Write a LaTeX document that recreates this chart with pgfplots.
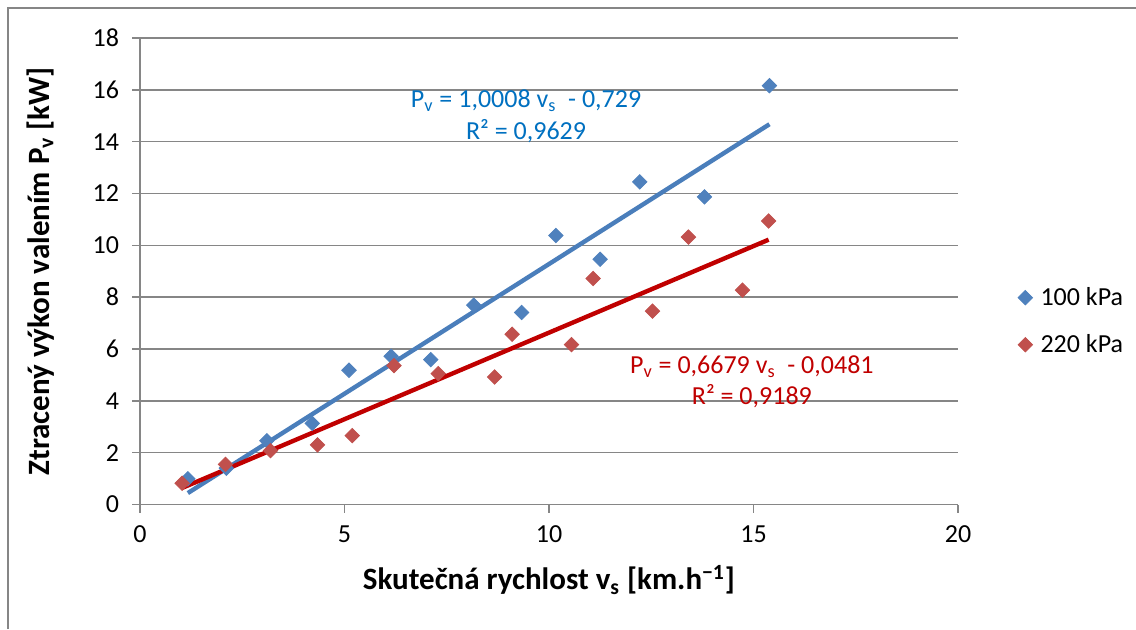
\documentclass[border=0pt]{standalone}
\usepackage{pgfplots}
\pgfplotsset{compat=1.18}
\usepackage{fontspec}
\setmainfont{Carlito}

\definecolor{ptblue}{HTML}{4F81BD}
\definecolor{ptred}{HTML}{C0504D}
\definecolor{lnblue}{HTML}{4A7EBB}
\definecolor{lnred}{HTML}{C00000}
\definecolor{eqblue}{HTML}{0070C0}
\definecolor{eqred}{HTML}{C00000}
\definecolor{gridgray}{HTML}{868686}

\newcommand{\tickfont}{\fontsize{13}{15.6}\selectfont}
\newcommand{\titlefont}{\fontsize{15.5}{18.6}\selectfont\bfseries}

% measured points: speed v_s [km/h], lost power P_v [kW]
\pgfplotstableread{
vs     Pv
1.17   0.99
2.11   1.40
3.10   2.46
4.21   3.13
5.11   5.18
6.14   5.72
7.11   5.59
8.16   7.69
9.33   7.41
10.17  10.38
11.25  9.46
12.22  12.45
13.80  11.87
15.39  16.16
}\lowpressure

\pgfplotstableread{
vs     Pv
1.03   0.82
2.09   1.55
3.19   2.08
4.34   2.30
5.19   2.66
6.21   5.36
7.29   5.05
8.67   4.92
9.10   6.57
10.55  6.17
11.08  8.72
12.53  7.46
13.41  10.32
14.73  8.27
15.37  10.94
}\highpressure

\begin{document}
\begin{tikzpicture}
\useasboundingbox (0,0) rectangle (568pt,314.5pt);
% chart area frame
\draw[gridgray, line width=1pt] (3.75pt,0) -- (3.75pt,310.75pt) -- (568pt,310.75pt);

\begin{axis}[
  at={(70pt,62.25pt)}, anchor=south west,
  scale only axis, width=409pt, height=233.25pt,
  xmin=0, xmax=20, ymin=0, ymax=18,
  xtick={0,5,...,20}, ytick={0,2,...,18},
  axis x line*=bottom, axis y line*=left,
  ymajorgrids,
  grid style={gridgray, line width=0.75pt},
  axis line style={gridgray, line width=0.75pt, -},
  tick align=outside, major tick length=4pt,
  tick style={gridgray, line width=0.75pt},
  /pgf/number format/assume math mode=true,
  tick label style={font=\tickfont, text=black},
  yticklabel style={xshift=-3pt},
  xticklabel style={yshift=-3pt},
  xlabel={Skutečná rychlost v\textsubscript{s} [km.h\textsuperscript{−1}]},
  ylabel={Ztracený výkon valením P\textsubscript{v} [kW]},
  xlabel style={font=\titlefont, at={(axis description cs:0.5,-0.162)}, anchor=center},
  ylabel style={font=\titlefont, at={(axis description cs:-0.122,0.5)}, anchor=center},
  legend style={draw=none, fill=none, font=\tickfont, at={(1.073,0.393)}, anchor=west,
    row sep=9pt, inner sep=0pt, nodes={inner xsep=4pt}},
  legend cell align=left,
  clip=false,
]
\addplot[only marks, mark=square*, mark size=2.55pt, mark options={rotate=45},
  draw=ptblue, fill=ptblue]
  table[x=vs, y=Pv] {\lowpressure};
\addlegendentry{100 kPa}
\addplot[only marks, mark=square*, mark size=2.55pt, mark options={rotate=45},
  draw=ptred, fill=ptred]
  table[x=vs, y=Pv] {\highpressure};
\addlegendentry{220 kPa}

% linear trend lines: P = 1.0008 v - 0.729 and P = 0.6679 v - 0.0481
\addplot[lnblue, line width=2.2pt, forget plot] coordinates {(1.17,0.442) (15.39,14.673)};
\addplot[lnred, line width=2.2pt, forget plot] coordinates {(1.03,0.640) (15.37,10.218)};

\node[font=\tickfont, text=eqblue, align=center, anchor=center] at (axis cs:9.44,14.98)
  {P\textsubscript{v} = 1,0008 v\textsubscript{s}~ - 0,729\\R² = 0,9629};
\node[font=\tickfont, text=eqred, align=center, anchor=center] at (axis cs:14.96,4.72)
  {P\textsubscript{v} = 0,6679 v\textsubscript{s}~ - 0,0481\\R² = 0,9189};
\end{axis}
\end{tikzpicture}
\end{document}
